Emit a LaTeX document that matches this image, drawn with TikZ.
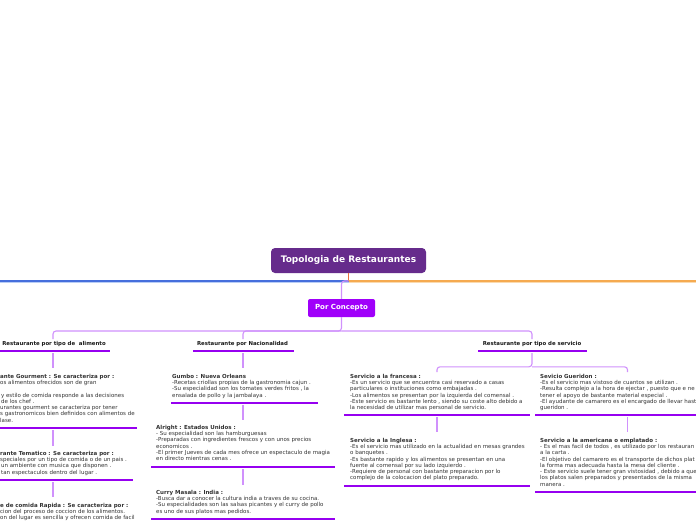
\documentclass[tikz,border=0pt]{standalone}
\usepackage{fontspec}
\setmainfont{DejaVu Sans}
\definecolor{rootc}{RGB}{102,43,140}
\definecolor{conc}{RGB}{160,0,250}
\definecolor{ulc}{RGB}{150,0,240}
\definecolor{linkc}{RGB}{208,145,252}
\definecolor{bluec}{RGB}{70,110,220}
\definecolor{lbluec}{RGB}{185,205,245}
\definecolor{orc}{RGB}{245,170,80}
\definecolor{lorc}{RGB}{250,218,175}
\definecolor{stemc}{RGB}{235,110,60}
\begin{document}
\begin{tikzpicture}[x=1pt,y=-1pt,
  txt/.style={anchor=north west,inner sep=0pt,align=left,font=\fontsize{5.5}{6.3}\selectfont,text=black!80},
  ttl/.style={inner sep=0pt,font=\fontsize{5.4}{6}\selectfont\bfseries,text=black!90},
  uline/.style={draw=ulc,line width=2.6pt},
  link/.style={draw=linkc,line width=1.1pt,rounded corners=3pt}]
\useasboundingbox (0,0) rectangle (696,520);
\clip (0,0) rectangle (696,520);
\fill[white] (0,0) rectangle (696,520);

% main horizontal lines
\coordinate (hub) at (348.5,281);
\draw[lbluec,line width=1pt] (0,282.2) -- (hub|-0,282.2);
\draw[bluec,line width=1.1pt] (0,281) -- (hub);
\draw[lorc,line width=1pt] (hub|-0,282.2) -- (696,282.2);
\draw[orc,line width=1.1pt] (hub) -- (696,281);

% root
\node[fill=rootc,rounded corners=4pt,minimum width=155pt,minimum height=25pt,text=white,
      font=\fontsize{9}{10}\selectfont\bfseries] (root) at (348.5,260.5) {Topologia de Restaurantes};
\draw[stemc,line width=1.1pt] (root.south) -- (hub);

% Por Concepto
\node[fill=conc,rounded corners=2pt,minimum width=67pt,minimum height=18pt,text=white,
      font=\fontsize{7}{8}\selectfont\bfseries] (pc) at (341.5,308) {Por Concepto};
\draw[link] (hub) -| (pc.north);

% column titles
\node[ttl] (t1) at (54,344) {Restaurante por tipo de\ \ alimento};
\node[ttl] (t2) at (242.5,344) {Restaurante por Nacionalidad};
\node[ttl] (t3) at (532,344) {Restaurante por tipo de servicio};
\draw[uline] (0,351) -- (110,351);
\draw[uline] (193,351) -- (294,351);
\draw[uline] (478,351) -- (587,351);

\coordinate (j) at (341.5,331);
\draw[link] (pc.south) -- (j) -| (53,339);
\draw[link] (j) -| (243,339);
\draw[link] (j) -| (532,339);

% column 1
\node[txt] (b1) at (0,373.8) {\textbf{ante Gourment : Se caracteriza por :}\\
os alimentos ofrecidos son de gran\\
\mbox{}\\
\,y estilo de comida responde a las decisiones\\
\,de los chef .\\
urantes gourment se caracteriza por tener\\
s gastronomicos bien definidos con alimentos de\\
lase.};
\draw[uline] (0,428) -- (137,428);
\node[txt] (b2) at (0,450.8) {\textbf{rante Tematico : Se caracteriza por :}\\
speciales por un tipo de comida o de un pais .\\
\,un ambiente con musica que disponen .\\
\,tan espectaculos dentro del lugar .};
\draw[uline] (0,480) -- (133,480);
\node[txt] (b3) at (0,502.8) {\textbf{e de comida Rapida : Se caracteriza por :}\\
cion del proceso de coccion de los alimentos.\\
on del lugar es sencilla y ofrecen comida de facil};
\draw[link] (53,353) -- (53,368);
\draw[link] (53,430) -- (53,446);
\draw[link] (53,482) -- (53,497);

% column 2
\node[txt] (g1) at (172,373.8) {\textbf{Gumbo : Nueva Orleans}\\
-Recetas criollas propias de la gastronomia cajun .\\
-Su especialidad son los tomates verdes fritos , la\\
ensalada de pollo y la jambalaya .};
\draw[uline] (171,403) -- (318,403);
\node[txt] (g2) at (156,424.8) {\textbf{Alright : Estados Unidos :}\\
- Su especialidad son las hamburguesas\\
-Preparadas con ingredientes frescos y con unos precios\\
economicos .\\
-El primer Jueves de cada mes ofrece un espectaculo de magia\\
en directo mientras cenas .};
\draw[uline] (151,467) -- (335,467);
\node[txt] (g3) at (156,489.8) {\textbf{Curry Masala : India :}\\
-Busca dar a conocer la cultura india a traves de su cocina.\\
-Su especialidades son las salsas picantes y el curry de pollo\\
es uno de sus platos mas pedidos.};
\draw[uline] (151,519) -- (335,519);
\draw[link] (243,353) -- (243,368);
\draw[link] (243,405) -- (243,420);
\draw[link] (243,469) -- (243,485);

% column 3
\coordinate (k) at (532,366.8);
\draw[link] (532,353) -- (k) -| (437,372);
\draw[link] (k) -| (627.5,372);
\node[txt] (s1) at (350,373.8) {\textbf{Servicio a la francesa :}\\
-Es un servicio que se encuentra casi reservado a casas\\
particulares o instituciones como embajadas .\\
-Los alimentos se presentan por la izquierda del comensal .\\
-Este servicio es bastante lento , siendo su coste alto debido a\\
la necesidad de utilizar mas personal de servicio.};
\draw[uline] (344,415) -- (530,415);
\node[txt] (s2) at (350,437.8) {\textbf{Servicio a la Inglesa :}\\
-Es el servicio mas utilizado en la actualidad en mesas grandes\\
o banquetes .\\
-Es bastante rapido y los alimentos se presentan en una\\
fuente al comensal por su lado izquierdo .\\
-Requiere de personal con bastante preparacion por lo\\
complejo de la colocacion del plato preparado.};
\draw[uline] (344,486) -- (530,486);
\draw[link] (437,417) -- (437,432);

\node[txt] (s3) at (540,373.8) {\textbf{Sevicio Gueridon :}\\
-Es el servicio mas vistoso de cuantos se utilizan .\\
-Resulta complejo a la hora de ejectar , puesto que e ne\\
tener el apoyo de bastante material especial .\\
-El ayudante de camarero es el encargado de llevar hast\\
gueridon .};
\draw[uline] (535,415) -- (696,415);
\node[txt] (s4) at (540,437.8) {\textbf{Servicio a la americana o emplatado :}\\
- Es el mas facil de todos , es utilizado por los restauran\\
a la carta .\\
-El objetivo del camarero es el transporte de dichos plat\\
la forma mas adecuada hasta la mesa del cliente .\\
- Este servicio suele tener gran vistosidad , debido a que\\
los platos salen preparados y presentados de la misma\\
manera .};
\draw[uline] (535,492) -- (696,492);
\draw[link] (627.5,417) -- (627.5,432);
\end{tikzpicture}
\end{document}
